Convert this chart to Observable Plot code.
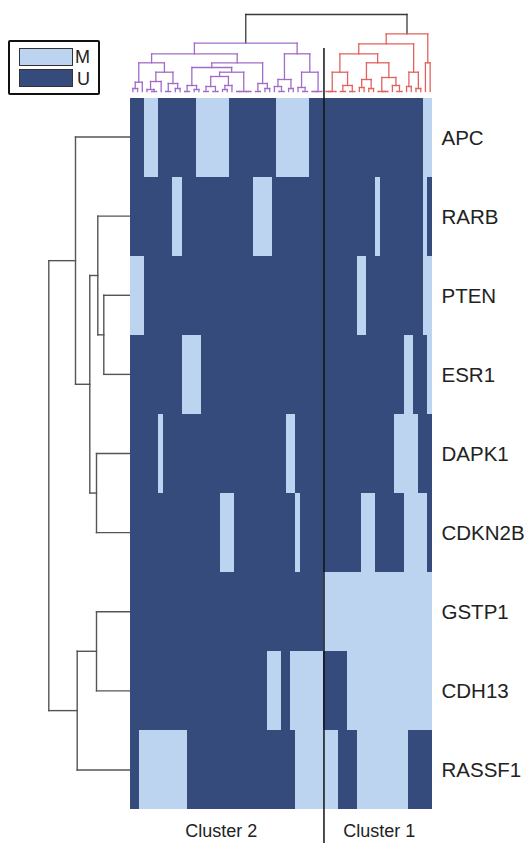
<!DOCTYPE html>
<html>
<head>
<meta charset="utf-8">
<script src="https://cdn.jsdelivr.net/npm/d3@7"></script>
<script src="https://cdn.jsdelivr.net/npm/@observablehq/plot@0.6"></script>
<style>
  html, body { margin: 0; padding: 0; background: #fff; }
  #wrap { position: relative; width: 530px; height: 843px; overflow: hidden; font-family: "Liberation Sans", Arial, sans-serif; }
  #wrap svg { position: absolute; left: 0; top: 0; }
  .abs { position: absolute; box-sizing: border-box; }
</style>
</head>
<body>
<div id="wrap"></div>
<script>
// ---------------- DATA ----------------
const genes = ["APC", "RARB", "PTEN", "ESR1", "DAPK1", "CDKN2B", "GSTP1", "CDH13", "RASSF1"];

// methylation status per sample column (1 = M, 0 = U), 64 samples, groups of 8
const APC    = "00011100 00000011 11111000 00000001 11111100 00000000 00000000 00000011";
const RARB   = "00000000 01100000 00000000 00111100 00000000 00000000 00001000 00000010";
const PTEN   = "11100000 00000000 00000000 00000000 00000000 00000000 11000000 00000011";
const ESR1   = "00000000 00011110 00000000 00000000 00000000 00000000 00000000 00110001";
const DAPK1  = "00000010 00000000 00000000 00000000 01100000 00000000 00000000 11111000";
const CDKN2B = "00000000 00000000 00011100 00000000 00010000 00000000 01110000 00111110";
const GSTP1  = "00000000 00000000 00000000 00000000 00000000 01111111 11111111 11111111";
const CDH13  = "00000000 00000000 00000000 00000111 00111111 10000011 11111111 11111111";
const RASSF1 = "00111111 11110000 00000000 00000000 00011111 11110000 11111111 11100000";

const statusLabels = ["M", "U"];
const clusterNames = ["Cluster 2", "Cluster 1"];
const clusterFirst = [0, 41];
const clusterLast  = [40, 63];

// sample dendrogram: [height, left, right]; leaves are sample column indices
const P = [48.3,
  [37.7,
    [28.7, [9.3, [3, 0, 1], 2],
           [19.3, [10, [2, 3, [0, 4, 5]], 6], [8, [0, 7, 8], [3, 9, 10]]]],
    [28.7, [24, [6, [0, 11, 12], [2, 13, 14]],
                [19.3, [15, [5, [0, 15, 16], [0, 17, 18]], [6, [2, 19, 20], 21]],
                       [0, [0, 22, 23], [0, 24, 25]]]],
           [8, [0, 26, 27], [3, 28, 29]]]],
  [37.7,
    [12, [5, 30, [0, 31, 32]], [3, 33, 34]],
    [19.3, [4, 35, [0, 36, 37]], [0, [0, 38, 39], 40]]]];
const R = [57.7,
  [47.7,
    [37.7,
      [19.3, [0, [0, 41, 42], 43], [6, [0, 44, 45], [0, 46, 47]]],
      [28.7, [12, [4, 48, 49], [3, 50, 51]], [14, [0, 52, [0, 53, 54]], [6, 55, [0, 56, 57]]]]],
    [19.3, [5, 58, 59], [3, 60, 61]]],
  [28.7, 62, 63]];
const sampleTree = [77, P, R];

// gene dendrogram: leaves are row indices in genes
const geneTree = [81.7, [55, 0, [40.7, [32.7, 1, [26.7, 2, 3]], [34, 4, 5]]], [53.3, [34, 6, 7], 8]];

// ---------------- STYLE ----------------
const LIGHT = "#bcd4f0", DARK = "#354b7c";
const PURPLE = "#a06cc8", RED = "#e0625e", ROOT = "#3a3a3a", GREY = "#555555";
const FONT = "'Liberation Sans', Arial, sans-serif";

// ---------------- BUILD ----------------
const rowStrings = {APC, RARB, PTEN, ESR1, DAPK1, CDKN2B, GSTP1, CDH13, RASSF1};
const cells = genes.flatMap(g => rowStrings[g].replace(/\s/g, "").split("").map((v, i) => ({gene: g, col: i, status: v === "1" ? "M" : "U"})));
const nCols = rowStrings.APC.replace(/\s/g, "").length;
const clusters = clusterNames.map((name, i) => ({name, mid: (clusterFirst[i] + clusterLast[i] + 1) / 2}));

const branchColor = new Map([[P, PURPLE], [R, RED]]);
function walk(node, col, segs) {
  if (typeof node === "number") return {p: node + 0.5, h: 0};
  const [h, a, b] = node;
  const A = walk(a, branchColor.get(a) || col, segs);
  const B = walk(b, branchColor.get(b) || col, segs);
  segs.push({p1: A.p, h1: A.h, p2: A.p, h2: h, col});
  segs.push({p1: B.p, h1: B.h, p2: B.p, h2: h, col});
  segs.push({p1: A.p, h1: h, p2: B.p, h2: h, col});
  return {p: (A.p + B.p) / 2, h};
}
const topSegs = []; walk(sampleTree, ROOT, topSegs);
const leftSegs = []; walk(geneTree, GREY, leftSegs);

const wrap = document.getElementById("wrap");

// heatmap
const heat = Plot.plot({
  width: 530, height: 843,
  marginLeft: 130, marginRight: 98, marginTop: 97, marginBottom: 34,
  style: {background: "transparent", fontFamily: FONT, color: "#222"},
  x: {domain: [0, nCols], axis: null},
  y: {domain: genes, padding: 0, axis: null},
  color: {domain: statusLabels, range: [LIGHT, DARK]},
  marks: [
    Plot.barX(cells, {x1: "col", x2: d => d.col + 1, y: "gene", fill: "status", shapeRendering: "crispEdges"}),
    Plot.axisY({anchor: "right", tickSize: 0, tickPadding: 9, fontSize: 20.5, label: null}),
    Plot.ruleX([clusterFirst[1]], {stroke: "#111", strokeWidth: 1.5, insetTop: -49, insetBottom: -34}),
    Plot.text(clusters.slice(0, 1), {x: "mid", text: "name", frameAnchor: "bottom", lineAnchor: "middle", dy: 22, dx: -6, fontSize: 18, fill: "#222"}),
    Plot.text(clusters.slice(1), {x: "mid", text: "name", frameAnchor: "bottom", lineAnchor: "middle", dy: 22, dx: 1, fontSize: 18, fill: "#222"})
  ]
});
wrap.appendChild(heat);

// top dendrogram
const topPlot = Plot.plot({
  width: 530, height: 97,
  marginLeft: 130, marginRight: 98, marginTop: 14, marginBottom: 6,
  style: {background: "transparent"},
  x: {domain: [0, nCols], axis: null},
  y: {domain: [0, 77], axis: null},
  marks: [ROOT, PURPLE, RED].map(c => Plot.link(topSegs.filter(d => d.col === c), {
    x1: "p1", y1: "h1", x2: "p2", y2: "h2", stroke: c, strokeWidth: 1.3, strokeLinecap: "square"
  }))
});
wrap.appendChild(topPlot);

// left dendrogram
const leftPlot = Plot.plot({
  width: 130, height: 843,
  marginLeft: 0, marginRight: 0, marginTop: 97, marginBottom: 34,
  style: {background: "transparent"},
  x: {domain: [0, 130], range: [130, 0], axis: null},
  y: {domain: [0, genes.length], range: [97, 809], axis: null},
  marks: [Plot.link(leftSegs, {x1: "h1", y1: "p1", x2: "h2", y2: "p2", stroke: GREY, strokeWidth: 1.4, strokeLinecap: "square"})]
});
wrap.appendChild(leftPlot);

// legend
const box = document.createElement("div");
box.className = "abs";
Object.assign(box.style, {left: "8px", top: "40px", width: "92px", height: "55px", border: "2px solid #111", borderRadius: "2px", background: "#fff"});
wrap.appendChild(box);
statusLabels.forEach((lab, i) => {
  const sw = document.createElement("div");
  sw.className = "abs";
  Object.assign(sw.style, {left: "19px", top: (48 + i * 21) + "px", width: "54px", height: "18px", background: i === 0 ? LIGHT : DARK, border: "1.5px solid #333"});
  wrap.appendChild(sw);
  const t = document.createElement("div");
  t.className = "abs";
  t.textContent = lab;
  Object.assign(t.style, {left: (i === 0 ? 75 : 77) + "px", top: (47 + i * 22) + "px", height: "20px", lineHeight: "20px", fontSize: "18px", color: "#222", fontFamily: FONT});
  wrap.appendChild(t);
});
</script>
</body>
</html>
